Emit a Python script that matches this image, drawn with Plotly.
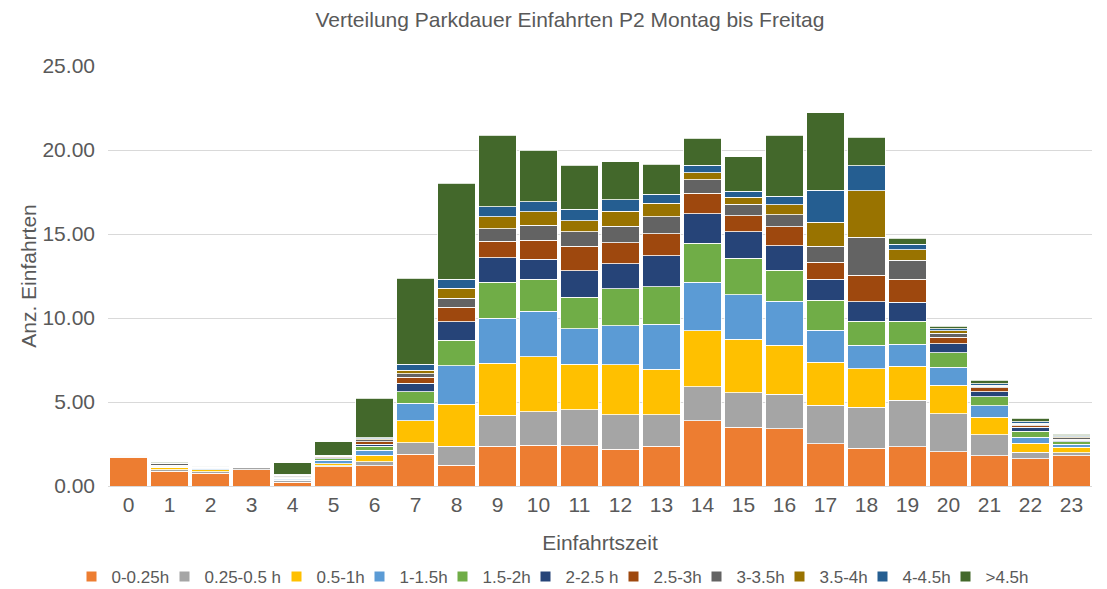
import plotly.graph_objects as go

hours = [str(h) for h in range(24)]

series_names = ["0-0.25h", "0.25-0.5 h", "0.5-1h", "1-1.5h", "1.5-2h", "2-2.5 h",
                "2.5-3h", "3-3.5h", "3.5-4h", "4-4.5h", ">4.5h"]

s_0_025 = [1.70, 0.87, 0.77, 0.97, 0.23, 1.16, 1.21, 1.89, 1.25, 2.36, 2.44, 2.40,
           2.20, 2.36, 3.89, 3.49, 3.41, 2.52, 2.24, 2.34, 2.04, 1.79, 1.63, 1.80]
s_025_05 = [0.06, 0.10, 0.08, 0.12, 0.10, 0.05, 0.22, 0.69, 1.13, 1.85, 1.98, 2.14,
            2.04, 1.87, 2.02, 2.07, 2.05, 2.30, 2.46, 2.76, 2.26, 1.25, 0.38, 0.18]
s_05_1 = [0.08, 0.12, 0.12, 0.00, 0.04, 0.12, 0.40, 1.31, 2.50, 3.09, 3.26, 2.70,
          2.98, 2.73, 3.32, 3.19, 2.93, 2.56, 2.28, 2.04, 1.71, 1.05, 0.53, 0.32]
s_1_15 = [0.02, 0.04, 0.08, 0.01, 0.06, 0.20, 0.31, 1.03, 2.28, 2.70, 2.72, 2.11,
          2.32, 2.66, 2.91, 2.64, 2.60, 1.89, 1.39, 1.29, 1.07, 0.69, 0.36, 0.18]
s_15_2 = [0.02, 0.04, 0.06, 0.02, 0.04, 0.10, 0.24, 0.69, 1.53, 2.14, 1.90, 1.88,
          2.19, 2.23, 2.30, 2.16, 1.85, 1.80, 1.45, 1.39, 0.84, 0.52, 0.37, 0.14]
s_2_25 = [0.01, 0.03, 0.01, 0.00, 0.06, 0.04, 0.12, 0.50, 1.09, 1.45, 1.19, 1.59,
          1.50, 1.86, 1.77, 1.59, 1.46, 1.23, 1.15, 1.11, 0.55, 0.31, 0.22, 0.10]
s_25_3 = [0.01, 0.05, 0.01, 0.01, 0.03, 0.06, 0.14, 0.36, 0.87, 0.97, 1.15, 1.45,
          1.25, 1.31, 1.23, 0.95, 1.13, 1.01, 1.57, 1.37, 0.38, 0.24, 0.10, 0.06]
s_3_35 = [0.02, 0.06, 0.01, 0.04, 0.05, 0.05, 0.10, 0.22, 0.52, 0.76, 0.88, 0.87,
          0.98, 1.01, 0.79, 0.68, 0.72, 0.96, 2.26, 1.15, 0.24, 0.08, 0.08, 0.08]
s_35_4 = [0.01, 0.03, 0.005, 0.00, 0.04, 0.03, 0.08, 0.21, 0.60, 0.71, 0.79, 0.65,
          0.89, 0.80, 0.42, 0.43, 0.60, 1.42, 2.76, 0.62, 0.16, 0.08, 0.08, 0.06]
s_4_45 = [0.01, 0.02, 0.005, 0.01, 0.04, 0.02, 0.06, 0.34, 0.53, 0.60, 0.61, 0.68,
          0.69, 0.53, 0.44, 0.34, 0.49, 1.91, 1.51, 0.31, 0.12, 0.08, 0.06, 0.06]
s_gt45 = [0.02, 0.06, 0.02, 0.02, 0.69, 0.80, 2.34, 5.12, 5.72, 4.26, 3.06, 2.62,
          2.26, 1.79, 1.62, 2.06, 3.63, 4.62, 1.70, 0.38, 0.15, 0.20, 0.22, 0.10]

series_values = [s_0_025, s_025_05, s_05_1, s_1_15, s_15_2, s_2_25,
                 s_25_3, s_3_35, s_35_4, s_4_45, s_gt45]

colors = ["#ED7D31", "#A5A5A5", "#FFC000", "#5B9BD5", "#70AD47", "#264478",
          "#9E480E", "#636363", "#997300", "#255E91", "#43682B"]

# legend entry widths (px) used for horizontal spacing of legend items
legend_widths = [48, 67, 38, 38, 38, 43, 38, 38, 38, 38, 48]

fig = go.Figure()
for name, vals, col, lw in zip(series_names, series_values, colors, legend_widths):
    fig.add_trace(go.Bar(
        x=hours, y=vals, name=name, legendwidth=lw,
        marker=dict(color=col, line=dict(color="white", width=0.8)),
    ))

txt = "#595959"
fig.update_layout(
    barmode="stack",
    bargap=0.09,
    width=1107, height=589,
    paper_bgcolor="white", plot_bgcolor="white",
    font=dict(family="Liberation Sans, Arial, sans-serif", color=txt, size=21),
    title=dict(text="Verteilung Parkdauer Einfahrten P2 Montag bis Freitag",
               x=562 / 1107, xanchor="center", xref="container",
               y=1 - 12 / 589, yanchor="middle", yref="container",
               font=dict(size=21, color=txt)),
    margin=dict(l=100, r=23, t=58, b=111, autoexpand=False),
    xaxis=dict(
        title=dict(text="Einfahrtszeit", font=dict(size=21, color=txt), standoff=20),
        tickfont=dict(size=21, color=txt),
        showgrid=False, showline=True, linecolor="#D9D9D9", linewidth=1,
        ticks="", tickangle=0,
    ),
    yaxis=dict(
        title=dict(text="Anz. Einfahrten", font=dict(size=21, color=txt), standoff=0),
        tickfont=dict(size=21, color=txt),
        range=[0, 25], dtick=5, tickformat=".2f",
        showgrid=True, gridcolor="#D9D9D9", gridwidth=1,
        zeroline=False, showline=False, ticks="", ticklabelstandoff=12,
    ),
    legend=dict(
        orientation="h", x=(547 - 100) / 984, xanchor="center",
        y=(478 - 569) / 420, yanchor="middle",
        font=dict(size=17, color=txt),
        traceorder="normal", itemwidth=30, itemsizing="constant",
    ),
)

fig.write_html("out.html")
